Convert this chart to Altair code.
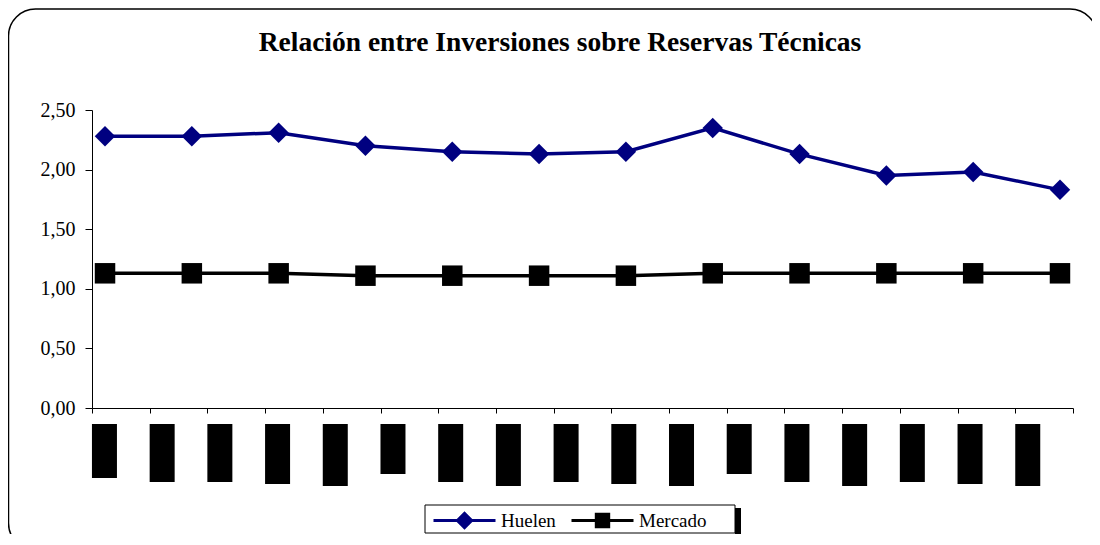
import altair as alt
import pandas as pd

# ---- data ----
titulo = "Relación entre Inversiones sobre Reservas Técnicas"
periodos = ["P01", "P02", "P03", "P04", "P05", "P06", "P07", "P08", "P09", "P10", "P11", "P12"]
huelen = [2.28, 2.28, 2.31, 2.20, 2.15, 2.13, 2.15, 2.35, 2.13, 1.95, 1.98, 1.83]
mercado = [1.13, 1.13, 1.13, 1.11, 1.11, 1.11, 1.11, 1.13, 1.13, 1.13, 1.13, 1.13]
series = ["Huelen", "Mercado"]

# x-axis categories (their labels appear only as solid black blocks)
etiquetas = [f"E{i:02d}" for i in range(1, 18)]
largo_etiqueta = [54, 58, 58, 60, 62, 50, 58, 62, 58, 60, 62, 50, 58, 62, 58, 60, 62]

y_ticks = [0, 0.5, 1.0, 1.5, 2.0, 2.5]

df = pd.DataFrame({
    "periodo": periodos * 2,
    "serie": ["Huelen"] * len(periodos) + ["Mercado"] * len(periodos),
    "valor": huelen + mercado,
})
df_h = pd.DataFrame({"periodo": periodos, "serie_h": "Huelen", "valor": huelen})
df_m = pd.DataFrame({"periodo": periodos, "serie_m": "Mercado", "valor": mercado})
df_lab = pd.DataFrame({"etiqueta": etiquetas, "largo": largo_etiqueta})
one = pd.DataFrame({"titulo": [titulo]})

AZUL = "#000080"
NEGRO = "#000000"
SERIF = "Liberation Serif"

# ---- decoration: rounded outer frame, title, legend box and its shadow ----
frame = alt.Chart(one).mark_rect(
    fill="transparent", stroke=NEGRO, strokeWidth=1.5, cornerRadius=27
).encode(x=alt.value(-83.5), x2=alt.value(1005), y=alt.value(-101), y2=alt.value(440))

title = alt.Chart(one).mark_text(
    font=SERIF, fontSize=27.5, fontWeight="bold", color=NEGRO, align="center", baseline="alphabetic"
).encode(text="titulo:N", x=alt.value(468), y=alt.value(-59))

shadow = alt.Chart(one).mark_rect(color=NEGRO).encode(
    x=alt.value(643), x2=alt.value(649), y=alt.value(398), y2=alt.value(440)
)
legend_box = alt.Chart(one).mark_rect(fill="#ffffff", stroke=NEGRO, strokeWidth=1).encode(
    x=alt.value(333), x2=alt.value(643), y=alt.value(395), y2=alt.value(423)
)

# ---- x axis (17 bands) with blacked-out labels ----
labels = alt.Chart(df_lab).mark_bar(width=25, xOffset=-16.4, color=NEGRO).encode(
    x=alt.X(
        "etiqueta:N", sort=etiquetas,
        scale=alt.Scale(paddingInner=0, paddingOuter=0),
        axis=alt.Axis(labels=False, tickBand="extent", tickSize=5, tickColor=NEGRO,
                      domainColor=NEGRO, grid=False, title=None),
    ),
    y=alt.Y("largo:Q", scale=alt.Scale(domain=[0, 62], range=[314, 376]), axis=None),
)

xs = alt.X("periodo:N", sort=periodos, scale=alt.Scale(type="point", padding=0.15), axis=None)

line = alt.Chart(df).mark_line(strokeWidth=3.5).encode(
    x=xs,
    y=alt.Y(
        "valor:Q", scale=alt.Scale(domain=[0, 2.5]),
        axis=alt.Axis(values=y_ticks, orient="left", grid=False, title=None,
                      labelExpr="replace(format(datum.value, '.2f'), '.', ',')",
                      labelFont=SERIF, labelFontSize=20, labelColor=NEGRO,
                      labelPadding=10, tickSize=7, tickColor=NEGRO, domainColor=NEGRO),
    ),
    stroke=alt.Stroke("serie:N", scale=alt.Scale(domain=series, range=[AZUL, NEGRO]), legend=None),
)


def leyenda(x, path, col):
    return alt.Legend(
        title=None, orient="none", legendX=x, legendY=378, padding=0,
        labelFont=SERIF, labelFontSize=19, labelColor=NEGRO, labelOffset=4,
        symbolType=path, symbolSize=3844, symbolStrokeWidth=3,
        symbolStrokeColor=col, symbolFillColor=col, symbolOpacity=1,
    )


pts_h = alt.Chart(df_h).mark_point(filled=True, opacity=1, size=420, shape="diamond").encode(
    x=xs,
    y=alt.Y("valor:Q", scale=alt.Scale(domain=[0, 2.5]), axis=None),
    color=alt.Color("serie_h:N", scale=alt.Scale(domain=["Huelen"], range=[AZUL]),
                    legend=leyenda(340, "M-1,0H1M-0.23,0L0,-0.23L0.23,0L0,0.23Z", AZUL)),
)
pts_m = alt.Chart(df_m).mark_point(filled=True, opacity=1, size=420, shape="square").encode(
    x=xs,
    y=alt.Y("valor:Q", scale=alt.Scale(domain=[0, 2.5]), axis=None),
    color=alt.Color("serie_m:N", scale=alt.Scale(domain=["Mercado"], range=[NEGRO]),
                    legend=leyenda(478, "M-1,0H1M-0.2,-0.2H0.2V0.2H-0.2Z", NEGRO)),
)

chart = alt.layer(frame, title, shadow, legend_box, labels, line, pts_h, pts_m).resolve_scale(
    x="independent", y="independent", color="independent"
).properties(
    width=981, height=298,
    autosize=alt.AutoSizeParams(type="none"),
    padding={"left": 84, "top": 102, "right": 19, "bottom": 126},
    background="#ffffff",
).configure_view(stroke=None)

chart.save("out.html", embed_options={"renderer": "svg", "actions": False})
